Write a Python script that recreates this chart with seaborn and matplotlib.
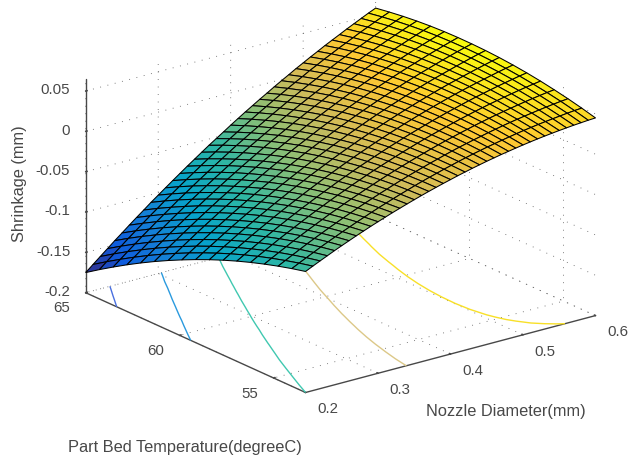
import numpy as np
import matplotlib
matplotlib.use('Agg')
import matplotlib.pyplot as plt
import seaborn as sns

nozzle = np.arange(0.20, 0.6001, 0.01)
temperature = np.linspace(53.3, 65, 17)

# shrinkage, in 1e-4 mm, one row per temperature
row_00 = [-500,-458,-417,-377,-337,-299,-262,-225,-190,-155,-122,-89,-57,-27,3,32,60,87,113,138,162,186,208,230,250,270,288,306,322,338,353,367,380,392,403,413,422,431,438,445,450]
row_01 = [-542,-498,-455,-413,-370,-330,-291,-252,-215,-178,-143,-107,-73,-41,-9,22,52,82,110,137,163,189,213,237,260,282,302,322,340,358,375,392,407,421,434,446,457,468,478,487,494]
row_02 = [-589,-543,-498,-453,-408,-366,-325,-284,-245,-205,-168,-130,-94,-60,-26,7,40,72,102,131,159,187,213,240,265,289,311,333,353,374,393,412,429,445,460,474,488,501,513,524,533]
row_03 = [-641,-592,-545,-498,-451,-407,-364,-321,-279,-237,-198,-158,-120,-84,-47,-12,23,57,89,120,150,181,209,238,265,291,315,339,362,385,406,427,446,464,481,498,514,529,543,556,567]
row_04 = [-697,-646,-597,-548,-499,-453,-408,-362,-318,-274,-233,-191,-151,-113,-73,-36,1,37,71,104,137,170,200,231,260,288,314,341,366,391,414,437,458,479,498,517,535,552,568,583,597]
row_05 = [-758,-705,-654,-603,-552,-504,-456,-408,-362,-316,-273,-229,-187,-146,-104,-65,-26,12,48,84,119,154,186,219,250,280,309,338,365,392,417,442,466,489,510,531,551,570,588,606,622]
row_06 = [-824,-769,-716,-663,-610,-559,-509,-459,-411,-363,-318,-272,-227,-184,-140,-99,-58,-18,21,59,96,133,167,202,235,268,299,330,359,388,415,443,469,494,517,540,562,583,604,624,642]
row_07 = [-895,-838,-783,-728,-672,-619,-567,-515,-465,-415,-367,-319,-272,-227,-181,-138,-95,-52,-11,29,68,107,143,180,216,251,284,317,348,379,409,439,467,494,519,544,568,592,615,637,657]
row_08 = [-971,-912,-854,-797,-739,-684,-630,-576,-524,-471,-421,-371,-322,-275,-227,-182,-136,-91,-48,-6,35,76,115,154,192,229,264,299,332,366,398,430,460,489,516,543,570,596,621,645,667]
row_09 = [-1052,-990,-930,-871,-811,-754,-698,-642,-587,-532,-480,-428,-377,-328,-278,-230,-182,-135,-90,-46,-3,41,82,123,163,202,239,276,312,348,382,416,448,479,508,538,567,595,622,648,672]
row_10 = [-1137,-1073,-1011,-950,-888,-829,-770,-712,-655,-598,-544,-490,-437,-385,-333,-283,-233,-184,-137,-91,-45,1,44,87,129,170,210,249,287,325,361,397,431,465,496,528,559,589,618,646,673]
row_11 = [-1227,-1161,-1097,-1034,-970,-909,-847,-787,-728,-669,-613,-557,-501,-447,-393,-341,-289,-238,-189,-140,-92,-44,1,46,90,133,176,217,257,297,335,373,409,446,479,513,546,578,609,640,669]
row_12 = [-1322,-1254,-1188,-1123,-1056,-993,-929,-867,-806,-745,-687,-628,-570,-514,-458,-404,-350,-296,-245,-194,-144,-94,-47,0,47,92,137,180,222,264,304,345,383,422,457,493,528,562,596,629,660]
row_13 = [-1422,-1352,-1284,-1216,-1147,-1082,-1016,-952,-889,-825,-765,-704,-644,-586,-528,-471,-415,-359,-306,-253,-201,-149,-99,-50,-1,46,93,138,182,227,269,312,352,393,430,468,506,542,578,613,646]
row_14 = [-1527,-1455,-1384,-1314,-1243,-1176,-1108,-1042,-977,-910,-848,-785,-723,-663,-603,-544,-485,-427,-372,-317,-263,-209,-156,-105,-54,-5,44,91,137,185,229,274,316,359,398,438,479,517,555,592,627]
row_15 = [-1636,-1562,-1489,-1417,-1344,-1275,-1205,-1136,-1069,-1000,-936,-871,-807,-745,-682,-621,-560,-500,-443,-386,-329,-273,-218,-165,-112,-61,-10,40,88,138,184,231,275,320,362,404,447,487,527,566,603]
row_16 = [-1750,-1674,-1599,-1525,-1450,-1379,-1306,-1235,-1166,-1095,-1029,-962,-896,-831,-766,-703,-640,-578,-519,-460,-400,-342,-285,-230,-175,-122,-68,-16,34,86,134,183,229,277,321,365,410,452,494,536,575]

contour_levels = [-0.15, -0.1, -0.05, 0, 0.042]
contour_colors = ['#4a70e0', '#2a9ade', '#40c8b0', '#dcc888', '#f8e028']
x_ticks = [0.2, 0.3, 0.4, 0.5, 0.6]
y_ticks = [55, 60, 65]
z_ticks = [-0.2, -0.15, -0.1, -0.05, 0, 0.05]
z_labels = ['-0.2', '-0.15', '-0.1', '-0.05', '0', '0.05']

shrinkage = np.array([row_00, row_01, row_02, row_03, row_04, row_05, row_06, row_07, row_08,
                      row_09, row_10, row_11, row_12, row_13, row_14, row_15, row_16]) / 1e4

sns.set_theme(style='white')
plt.rcParams['font.family'] = ['Liberation Sans', 'DejaVu Sans']
text_col = '#484848'

parula = sns.blend_palette(['#352a87', '#0f5cdd', '#1481d6', '#06a4ca', '#2eb7a4',
                            '#87bf77', '#d1bb59', '#fec832', '#f9fb0e'], as_cmap=True)

fig = plt.figure(figsize=(6.28, 4.61), dpi=100)
ax = fig.add_axes([-0.0302, -0.2074, 1.115, 1.518], projection='3d', computed_zorder=False)
ax.set_proj_type('ortho')
ax.view_init(elev=20.3, azim=-127.4)
ax.set_box_aspect((365, 362, 228), zoom=0.78)

X, Y = np.meshgrid(nozzle, temperature)
vmin, vmax = shrinkage.min(), shrinkage.max()
ax.contour(X, Y, shrinkage, levels=contour_levels, zdir='z', offset=-0.2, colors=contour_colors,
           linewidths=1.0, zorder=1)
ax.plot_surface(X, Y, shrinkage, cmap=parula, vmin=vmin, vmax=vmax, rstride=1, cstride=1,
                edgecolor='black', linewidth=0.75, shade=False, zorder=2)

ax.set_xlim(0.2, 0.6)
ax.set_ylim(53.3, 65)
ax.set_zlim(-0.2, 0.065)
ax.set_xticks(x_ticks)
ax.set_yticks(y_ticks)
ax.set_zticks(z_ticks)
ax.set_zticklabels(z_labels)
ax.tick_params(labelsize=10.8, labelcolor=text_col, colors=text_col, pad=6)
ax.tick_params(axis='z', pad=0)
plt.setp(ax.get_xticklabels(), ha='left', va='center')
plt.setp(ax.get_yticklabels(), ha='right', va='center')
plt.setp(ax.get_zticklabels(), ha='right', va='center')

for axis in [ax.xaxis, ax.yaxis, ax.zaxis]:
    axis.set_pane_color((1, 1, 1, 0))
    axis.pane.set_edgecolor((1, 1, 1, 0))
    axis.line.set_color(text_col)
    axis.line.set_linewidth(1.0)
    axis._axinfo['grid'].update(color='#555555', linewidth=0.6, linestyle=(0, (1, 8)))
    axis._axinfo['tick'].update(inward_factor=0.0, outward_factor=0.06)
ax.zaxis.set_ticks_position('upper')

fig.text(426 / 628, 1 - 411 / 461, 'Nozzle Diameter(mm)', fontsize=11.8, color=text_col, va='center')
fig.text(68 / 628, 1 - 447 / 461, 'Part Bed Temperature(degreeC)', fontsize=11.8, color=text_col, va='center')
fig.text(20 / 628, 1 - 184 / 461, 'Shrinkage (mm)', fontsize=11.8, color=text_col, rotation=90,
         va='center', ha='center')

fig.savefig('out.png', dpi=100)
